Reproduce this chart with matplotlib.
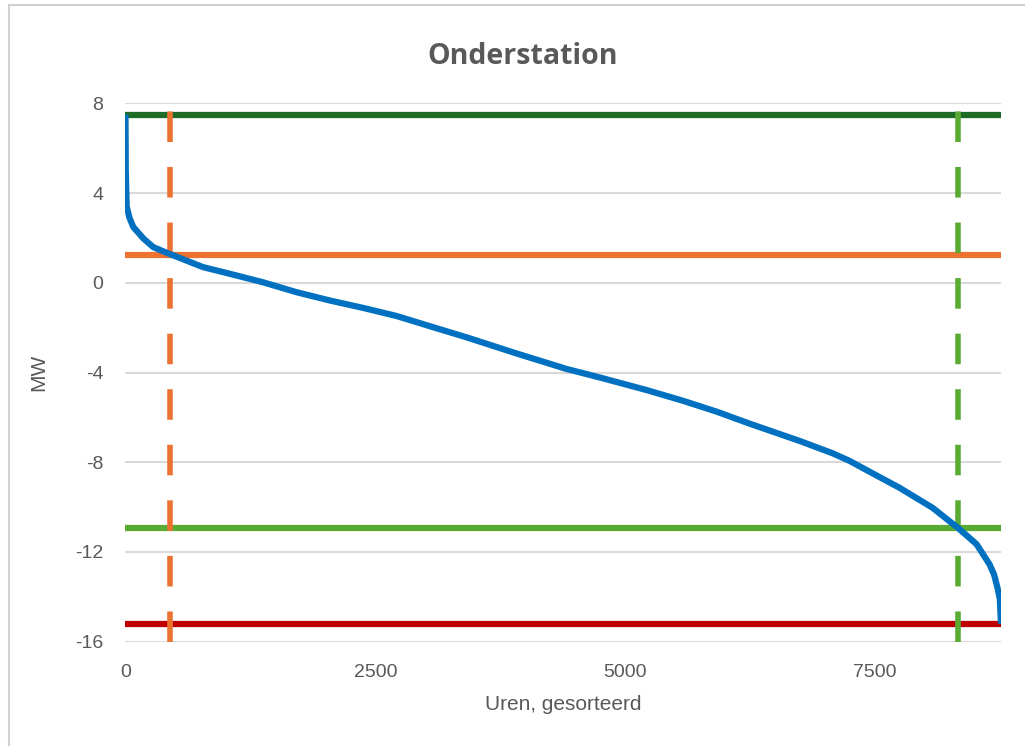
import numpy as np
import matplotlib.pyplot as plt
from matplotlib.patches import Rectangle

# sorted hourly load (duration curve) of the substation, MW
uren = [0, 3, 12, 40, 78, 178, 278, 428, 775, 1045, 1378, 1712, 2045, 2378, 2712,
        3078, 3412, 3912, 4412, 4745, 5212, 5578, 5912, 6245, 6745, 7075, 7245,
        7415, 7745, 8075, 8330, 8515, 8645, 8690, 8725, 8748, 8760]
mw = [7.5, 5.0, 3.4, 2.9, 2.49, 1.98, 1.59, 1.31, 0.70, 0.40, 0.02, -0.42, -0.79, -1.12, -1.48,
      -1.98, -2.43, -3.15, -3.84, -4.22, -4.78, -5.26, -5.74, -6.28, -7.05, -7.6, -7.94,
      -8.35, -9.14, -10.03, -10.93, -11.65, -12.55, -13.0, -13.6, -14.1, -15.2]

# limits
max_mw = 7.5
min_mw = -15.2
boven = 1.22      # upper threshold
onder = -10.93    # lower threshold
uur_boven = 450
uur_onder = 8330

xticks = [0, 2500, 5000, 7500]
yticks = [-16, -12, -8, -4, 0, 4, 8]

grey = '#595959'
plt.rcParams['font.family'] = ['Liberation Sans', 'DejaVu Sans']
plt.rcParams['axes.unicode_minus'] = False

fig = plt.figure(figsize=(10.25, 7.46), dpi=100)
ax = fig.add_axes([0.1224, 0.1398, 0.8542, 0.7217])

fig.patches.append(Rectangle((0.009, -0.1), 1.1, 1.093, transform=fig.transFigure,
                             fill=False, edgecolor='#d0d0d0', linewidth=1.5))

ax.axhline(max_mw, color='#1e6b28', lw=4.5, zorder=3)
ax.axhline(boven, color='#ed7232', lw=4.5, zorder=3)
ax.axhline(onder, color='#5aab33', lw=4.5, zorder=3)
ax.axhline(min_mw, color='#c00000', lw=4.5, zorder=3)
ax.axvline(uur_boven, color='#ed7232', lw=4, dashes=(5.5, 4.5), zorder=3)
ax.axvline(uur_onder, color='#5aab33', lw=4, dashes=(5.5, 4.5), zorder=3)

ax.plot(uren, mw, color='#0070c0', lw=4.5, solid_capstyle='butt',
        solid_joinstyle='round', zorder=4)

ax.set_xlim(0, 8760)
ax.set_ylim(-16, 8)
ax.set_xticks(xticks)
ax.set_yticks(yticks)
ax.grid(axis='y', color='#d9d9d9', lw=1.5)
ax.set_axisbelow(True)
for s in ax.spines.values():
    s.set_visible(False)
ax.tick_params(length=0, colors=grey, labelsize=14)
ax.tick_params(axis='x', pad=16)
ax.tick_params(axis='y', pad=16)

fig.text(0.51, 0.9236, 'Onderstation', fontsize=20.5, fontweight='bold', color=grey,
         family=['Open Sans', 'DejaVu Sans'], ha='center', va='center')
ax.set_xlabel('Uren, gesorteerd', fontsize=15, color=grey, labelpad=10)
ax.set_ylabel('MW', fontsize=15, color=grey)
ax.yaxis.set_label_coords(-0.088, 0.5)

fig.savefig('out.png', dpi=100)
